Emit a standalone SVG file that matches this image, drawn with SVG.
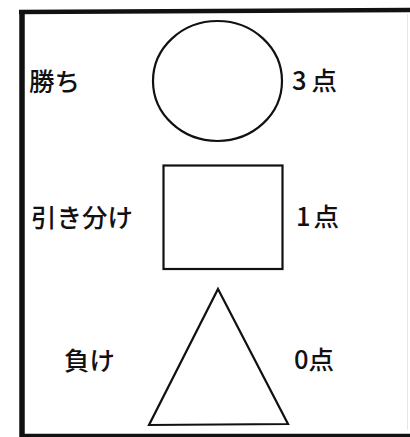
<svg xmlns="http://www.w3.org/2000/svg" width="410" height="437" viewBox="0 0 410 437">
<style>
.shape{fill:none;stroke:#111;stroke-width:2.2}
.lbl{font-family:"Noto Sans CJK JP","Noto Sans CJK SC",sans-serif;font-size:25.5px;fill:#111;font-weight:500}
.frame{fill:none;stroke:#111}
</style>
<rect width="410" height="437" fill="#fff"/>
<g id="frame">
<line class="frame" x1="19" y1="12" x2="410" y2="10" stroke-width="4.5"/>
<line class="frame" x1="22" y1="10" x2="22" y2="437" stroke-width="5.5"/>
<line class="frame" x1="20" y1="435.5" x2="410" y2="435.5" stroke-width="3.5"/>
<line x1="407.5" y1="14" x2="407.5" y2="430" stroke="#e6e6e6" stroke-width="1"/>
</g>
<g id="win">
<ellipse class="shape" cx="217.5" cy="81" rx="64.5" ry="60"/>
<text class="lbl" x="29" y="91">勝ち</text>
<text class="lbl" x="292" y="90">3<tspan dx="5">点</tspan></text>
</g>
<g id="draw">
<rect class="shape" x="163.5" y="165.5" width="119" height="103.5"/>
<text class="lbl" x="31" y="227">引き分け</text>
<text class="lbl" x="296" y="226">1<tspan dx="3">点</tspan></text>
</g>
<g id="lose">
<polygon class="shape" points="218,289 288,424 149,425"/>
<text class="lbl" x="64" y="370">負け</text>
<text class="lbl" x="294" y="369">0<tspan dx="0">点</tspan></text>
</g>
<g id="connectors"></g>
</svg>
